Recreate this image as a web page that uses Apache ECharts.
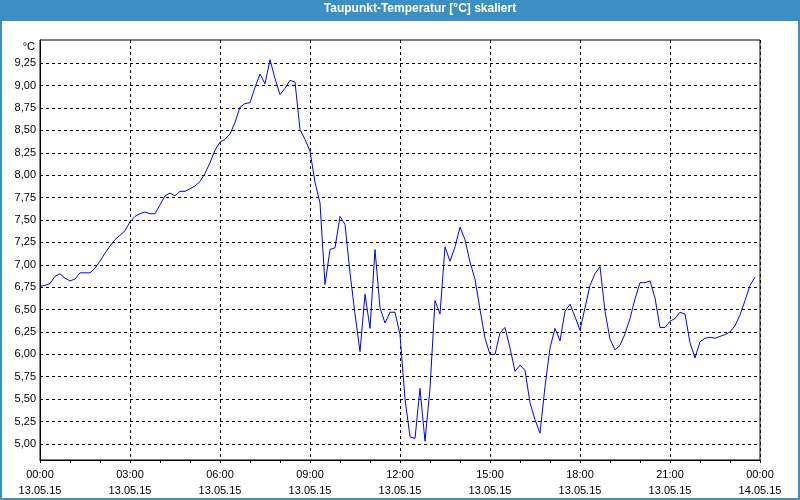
<!DOCTYPE html>
<html>
<head>
<meta charset="utf-8">
<script src="https://cdn.jsdelivr.net/npm/echarts@6/dist/echarts.min.js"></script>
<style>
  html, body { margin: 0; padding: 0; background: #ffffff; }
  #chart { width: 800px; height: 500px; }
</style>
</head>
<body>
<div id="chart"></div>
<script>
// Dew point temperature, 13.05.15, one reading every 10 minutes from 00:00 to 23:50
const startLabel = '13.05.15 00:00';
const stepMinutes = 10;
const dewPoint = [
  6.76, 6.77, 6.79, 6.87, 6.90, 6.85, 6.82, 6.84, 6.91, 6.91, 6.91, 6.96,
  7.04, 7.13, 7.21, 7.28, 7.33, 7.38, 7.48, 7.54, 7.57, 7.59, 7.57, 7.57,
  7.67, 7.77, 7.80, 7.77, 7.82, 7.82, 7.85, 7.88, 7.93, 8.02, 8.14, 8.28,
  8.37, 8.40, 8.46, 8.59, 8.76, 8.80, 8.81, 8.98, 9.13, 9.02, 9.29, 9.08,
  8.90, 8.97, 9.06, 9.04, 8.51, 8.40, 8.27, 7.92, 7.69, 6.78, 7.17, 7.19,
  7.54, 7.45, 6.91, 6.45, 6.03, 6.67, 6.29, 7.17, 6.52, 6.35, 6.47, 6.47,
  6.22, 5.50, 5.08, 5.06, 5.62, 5.03, 5.62, 6.60, 6.45, 7.20, 7.04, 7.20,
  7.42, 7.28, 7.03, 6.84, 6.50, 6.18, 6.00, 6.00, 6.24, 6.30, 6.07, 5.81,
  5.88, 5.82, 5.46, 5.27, 5.12, 5.64, 6.07, 6.29, 6.15, 6.48, 6.56, 6.42,
  6.27, 6.52, 6.77, 6.90, 6.98, 6.48, 6.17, 6.05, 6.10, 6.23, 6.40, 6.62,
  6.80, 6.80, 6.82, 6.63, 6.30, 6.30, 6.37, 6.40, 6.47, 6.45, 6.13, 5.96,
  6.14, 6.18, 6.19, 6.18, 6.20, 6.22, 6.25, 6.32, 6.44, 6.60, 6.77, 6.86
];
const yTicks = [5.00, 5.25, 5.50, 5.75, 6.00, 6.25, 6.50, 6.75, 7.00, 7.25, 7.50, 7.75, 8.00, 8.25, 8.50, 8.75, 9.00, 9.25];
const xTicks = [0, 3, 6, 9, 12, 15, 18, 21, 24];
const xTickLabels = [
  '00:00\n13.05.15', '03:00\n13.05.15', '06:00\n13.05.15', '09:00\n13.05.15',
  '12:00\n13.05.15', '15:00\n13.05.15', '18:00\n13.05.15', '21:00\n13.05.15',
  '00:00\n14.05.15'
];
const titleText = 'Taupunkt-Temperatur [°C] skaliert';
const unitText = '°C';

const seriesData = dewPoint.map((v, i) => [i * stepMinutes / 60, v]);
const FONT = 'Liberation Sans';
const BLUE = '#3c8fc3';

const chart = echarts.init(document.getElementById('chart'), null, { renderer: 'canvas' });
chart.setOption({
  animation: false,
  backgroundColor: '#ffffff',
  title: {
    text: titleText,
    left: 420,
    top: 3,
    padding: 0,
    textAlign: 'center',
    textStyle: { color: '#ffffff', fontSize: 12, fontWeight: 'bold', fontFamily: FONT }
  },
  graphic: [
    { type: 'rect', z: -10, shape: { x: 0, y: 0, width: 800, height: 21 }, style: { fill: BLUE } },
    { type: 'rect', z: -10, shape: { x: 1, y: 1, width: 798, height: 498 }, style: { fill: 'none', stroke: BLUE, lineWidth: 2 } }
  ],
  grid: {
    left: 40, right: 40, top: 40, bottom: 40,
    show: true, borderColor: '#000000', borderWidth: 1, backgroundColor: '#ffffff'
  },
  xAxis: [
    {
      type: 'value', min: 0, max: 24, interval: 3,
      axisLine: { show: true, lineStyle: { color: '#000000', width: 1 } },
      axisTick: { show: false },
      splitLine: { show: true, lineStyle: { color: '#000000', width: 1, type: [3, 3] } },
      axisLabel: {
        margin: 7, lineHeight: 16, color: '#000000', fontSize: 11, fontFamily: FONT,
        formatter: (v) => xTickLabels[xTicks.indexOf(v)] || ''
      }
    },
    {
      type: 'value', min: 0, max: 24, interval: 1, position: 'bottom',
      axisLine: { show: false },
      axisTick: { show: true, length: 3, lineStyle: { color: '#000000' } },
      axisLabel: { show: false },
      splitLine: { show: false }
    }
  ],
  yAxis: {
    type: 'value', min: 4.82, max: 9.51,
    name: unitText, nameLocation: 'end', nameGap: -7,
    nameTextStyle: { color: '#000000', fontSize: 11, fontFamily: FONT, align: 'right', verticalAlign: 'middle', padding: [0, 5, 0, 0] },
    axisLine: { show: true, lineStyle: { color: '#000000', width: 1 } },
    axisTick: { show: false },
    splitLine: { show: false },
    axisLabel: {
      customValues: yTicks,
      margin: 4, color: '#000000', fontSize: 11, fontFamily: FONT,
      formatter: (v) => v.toFixed(2).replace('.', ',')
    }
  },
  series: [
    {
      type: 'line', name: 'grid', data: [], z: 1, silent: true,
      markLine: {
        silent: true, symbol: 'none', animation: false,
        label: { show: false },
        lineStyle: { color: '#000000', width: 1, type: [3, 3] },
        data: yTicks.map(t => ({ yAxis: t }))
      }
    },
    {
      type: 'line', name: 'Taupunkt', data: seriesData, z: 5,
      showSymbol: false, symbol: 'none', smooth: false,
      lineStyle: { color: '#0000ff', width: 1 },
      itemStyle: { color: '#0000ff' }
    }
  ]
});
</script>
</body>
</html>
